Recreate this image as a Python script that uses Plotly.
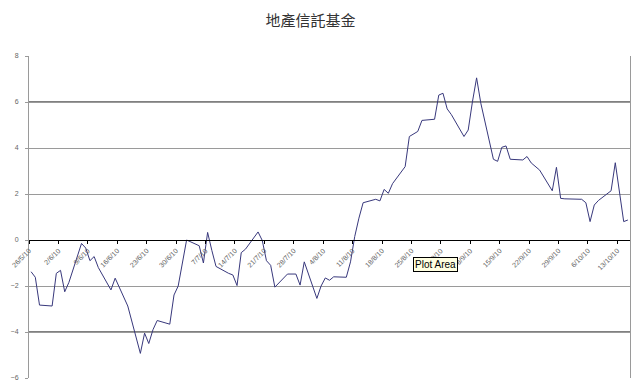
import pandas as pd
import plotly.graph_objects as go

TITLE = "地產信託基金"
START, END = "2010-05-26", "2010-10-15"
HOLIDAYS = ["2010-06-16", "2010-07-01", "2010-09-23", "2010-10-01"]
dates = pd.bdate_range(START, END, freq="C", holidays=HOLIDAYS)

may = [-1.38, -1.62, -2.83, -2.87]
jun = [-1.45, -1.32, -2.25, -1.84, -0.15, -0.35, -0.90, -0.72, -1.20, -2.17,
       -1.66, -2.45, -2.87, -4.93, -4.05, -4.50, -3.90, -3.50, -3.66, -2.39, -2.00]
jul = [0.00, -0.25, -1.00, 0.33, -0.45, -1.15, -1.45, -1.52, -1.98, -0.55,
       -0.40, 0.35, -0.02, -0.90, -1.10, -2.05, -1.48, -1.48, -1.48, -1.96, -0.95]
aug = [-2.54, -2.00, -1.65, -1.75, -1.60, -1.62, -0.95, 0.15, 0.95, 1.62, 1.77,
       1.70, 2.20, 2.03, 2.45, 3.19, 4.50, 4.60, 4.72, 5.20, 5.25, 6.30]
sep = [6.38, 5.70, 5.45, 4.50, 4.78, 6.00, 7.05, 5.95, 3.51, 3.42, 4.03,
       4.09, 3.51, 3.48, 3.63, 3.35, 3.04, 2.14, 3.16, 1.81, 1.79]
octo = [1.77, 1.62, 0.80, 1.52, 1.72, 2.14, 3.36, 2.03, 0.80, 0.87]
values = may + jun + jul + aug + sep + octo
assert len(values) == len(dates)

Y_RANGE = [-6, 8]
Y_TICKS = [-6, -4, -2, 0, 2, 4, 6, 8]
DARK_GRID = [6, -4]
X_RANGE = ["2010-05-26", "2010-10-16"]
WEEK_MS = 7 * 86400000
DAY_MS = 86400000

fig = go.Figure()
fig.add_trace(go.Scatter(
    x=dates, y=values, mode="lines",
    line=dict(color="#38387c", width=1),
    xperiod=DAY_MS, xperiodalignment="middle",
    hoverinfo="skip", showlegend=False,
))

for v in DARK_GRID:
    fig.add_hline(y=v, line=dict(color="#000000", width=1), layer="below")

zero_pos = (0 - Y_RANGE[0]) / (Y_RANGE[1] - Y_RANGE[0])

fig.update_layout(
    width=640, height=392,
    margin=dict(l=29, r=10, t=56, b=14),
    paper_bgcolor="white", plot_bgcolor="white",
    title=dict(text=TITLE, x=0.485, xanchor="center", y=1 - 21 / 392, yanchor="middle",
               font=dict(family="Noto Sans CJK TC", size=15, color="#333333")),
    xaxis=dict(
        type="date", range=X_RANGE, anchor="free", position=zero_pos,
        tick0="2010-05-26", dtick=WEEK_MS, tickformat="%-d/%-m/%y",
        tickangle=-45, showgrid=False, zeroline=False,
        showline=True, linecolor="#000000", linewidth=1,
        ticks="outside", ticklen=3, tickcolor="#000000",
        tickfont=dict(family="Liberation Sans", size=7, color="#606060"),
    ),
    yaxis=dict(
        range=Y_RANGE, tickvals=Y_TICKS, showgrid=True, gridcolor="#9a9a9a", gridwidth=1,
        zeroline=False, showline=True, linecolor="#9a9a9a", linewidth=1, mirror=True,
        ticks="outside", ticklen=3, tickcolor="#9a9a9a", ticklabelstandoff=5,
        tickfont=dict(family="Liberation Sans", size=7, color="#666666"),
    ),
    annotations=[dict(
        text="Plot Area", xref="paper", yref="paper",
        x=(435 - 29) / 601, y=(378 - 264) / 322, xanchor="center", yanchor="middle",
        showarrow=False, bgcolor="#ffffe1", bordercolor="#000000", borderwidth=1, borderpad=1,
        font=dict(family="Liberation Sans", size=10, color="#000000"),
    )],
)

fig.write_html("out.html")
